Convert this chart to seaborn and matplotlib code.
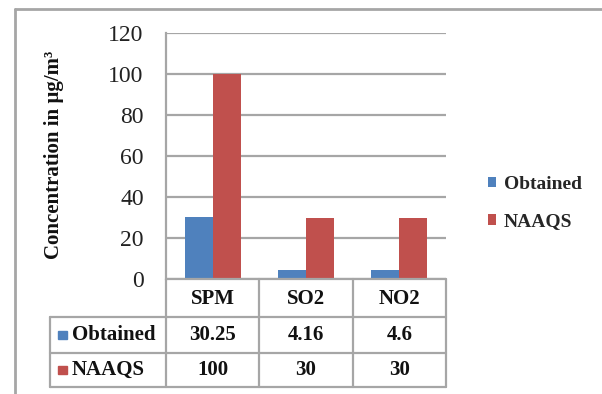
import matplotlib
matplotlib.use("Agg")
import matplotlib.pyplot as plt
from matplotlib.patches import Rectangle
import pandas as pd
import seaborn as sns

# ---- data -------------------------------------------------------------
pollutants = ["SPM", "SO2", "NO2"]
series = ["Obtained", "NAAQS"]
obtained = [30.25, 4.16, 4.6]
naaqs = [100, 30, 30]
y_ticks = [0, 20, 40, 60, 80, 100, 120]
colors = ["#4F81BD", "#C0504D"]
y_label = "Concentration in µg/m³"

df = pd.DataFrame({
    "Pollutant": pollutants * 2,
    "Series": [series[0]] * len(pollutants) + [series[1]] * len(pollutants),
    "Concentration": obtained + naaqs,
})
table_rows = {series[0]: obtained, series[1]: naaqs}

# ---- style ------------------------------------------------------------
sns.set_theme(style="white")
plt.rcParams["font.family"] = ["Liberation Serif", "DejaVu Serif"]
line_col = "#A6A6A6"

W, H = 602, 394
fig = plt.figure(figsize=(W / 100, H / 100), dpi=100)
fig.patch.set_facecolor("white")

# plot area in pixel units
L, R, T, B = 166, 446, 33, 279
ax = fig.add_axes([L / W, 1 - B / H, (R - L) / W, (B - T) / H])
sns.barplot(data=df, x="Pollutant", y="Concentration", hue="Series",
            palette=colors, width=0.6, saturation=1, ax=ax, zorder=3,
            linewidth=0, edgecolor="none")
ax.set_xlim(-0.5, len(pollutants) - 0.5)
ax.set_ylim(y_ticks[0], y_ticks[-1])
ax.set_yticks(y_ticks)
ax.set_yticklabels([str(t) for t in y_ticks], fontsize=17, color="#222222")
ax.tick_params(axis="y", length=0, pad=16)
ax.tick_params(axis="x", length=0, labelbottom=False)
ax.set_xlabel("")
ax.set_ylabel("")
ax.yaxis.grid(True, color=line_col, lw=1.6)
ax.set_axisbelow(True)
for side in ["top", "right", "bottom"]:
    ax.spines[side].set_visible(False)
ax.spines["left"].set_color(line_col)
ax.spines["left"].set_linewidth(1.6)

handles, labels = ax.get_legend_handles_labels()
ax.get_legend().remove()
fig.legend(handles, labels, loc="center left",
           bbox_to_anchor=(470 / W, 1 - 203 / H), frameon=False,
           prop=dict(weight="bold", size=14), handlelength=0.45,
           handleheight=0.45, handletextpad=0.4, labelspacing=1.05)

fig.text(54 / W, 1 - 155 / H, y_label, rotation=90, ha="center",
         va="center", fontweight="bold", fontsize=15, color="#111111")

# ---- data table under the plot (pixel overlay) -------------------------
ov = fig.add_axes([0, 0, 1, 1], facecolor="none")
ov.set_xlim(0, W)
ov.set_ylim(H, 0)
ov.axis("off")


def px_x(xdata):
    disp = ax.transData.transform((xdata, 0))
    return ov.transData.inverted().transform(disp)[0]


col_edges = [px_x(i - 0.5) for i in range(len(pollutants) + 1)]
row_edges = [B, 317, 353, 387]
left_edge = 50
lw = 1.6

# outer chart border
ov.plot([15, W], [9, 9], color=line_col, lw=2)
ov.plot([15, 15], [9, H], color=line_col, lw=2)

# grid of the table
ov.plot([col_edges[0], col_edges[-1]], [row_edges[0]] * 2, color=line_col, lw=lw)
for y in row_edges[1:]:
    ov.plot([left_edge, col_edges[-1]], [y, y], color=line_col, lw=lw)
ov.plot([left_edge, left_edge], [row_edges[1], row_edges[-1]], color=line_col, lw=lw)
for x in col_edges:
    ov.plot([x, x], [row_edges[0], row_edges[-1]], color=line_col, lw=lw)

txt = dict(fontweight="bold", fontsize=15, color="#111111", ha="center", va="center")
for i, name in enumerate(pollutants):
    cx = (col_edges[i] + col_edges[i + 1]) / 2
    ov.text(cx, (row_edges[0] + row_edges[1]) / 2 + 1, name, **txt)

for r, (name, vals) in enumerate(table_rows.items()):
    cy = (row_edges[r + 1] + row_edges[r + 2]) / 2
    ov.add_patch(Rectangle((58, cy - 4), 9, 8, color=colors[r]))
    ov.text(72, cy, name, fontweight="bold", fontsize=15, color="#111111",
            ha="left", va="center")
    for i, v in enumerate(vals):
        cx = (col_edges[i] + col_edges[i + 1]) / 2
        ov.text(cx, cy, f"{v:g}", **txt)

fig.savefig("out.png", dpi=100)
